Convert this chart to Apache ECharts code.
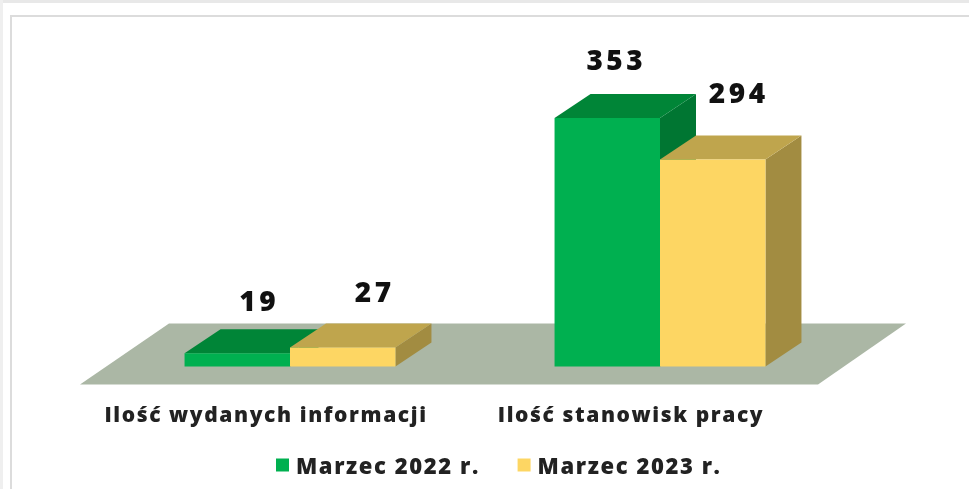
<!DOCTYPE html>
<html><head><meta charset="utf-8">
<script src="https://cdn.jsdelivr.net/npm/echarts@6/dist/echarts.min.js"></script>
<style>
html,body{margin:0;padding:0;background:#fff}
#c{width:969px;height:489px;filter:blur(0.55px)}
svg text{letter-spacing:1.6px}
svg text[style*="28px"]{letter-spacing:3.5px}
</style></head><body><div id="c"></div>
<script>
const categories = ['Ilość wydanych informacji', 'Ilość stanowisk pracy'];
const seriesNames = ['Marzec 2022 r.', 'Marzec 2023 r.'];
const marzec2022 = [19, 353];
const marzec2023 = [27, 294];
const valueMax = 400;
const FONT = '"Open Sans"';
const DX = 36, DY = -24;
const faces = [
  {front:'#00b050', top:'#008537', side:'#007632'},
  {front:'#fdd663', top:'#bfa54d', side:'#a28c41'}
];
// hand-placed label offsets from the front face's top-centre, per series and category
const labelOffsets = [
  [[22,-53],[9,-59]],
  [[32,-56],[26,-68]]
];
// leftward shift of each category label, as right padding
const labelPadRight = [48, 58];
function barSeries(name, data, idx){
  return {
    type:'custom', name, data, z:5+idx, coordinateSystem:'cartesian2d',
    itemStyle:{color:faces[idx].front},
    encode:{x:0,y:1},
    renderItem(params, api){
      const cat = api.value(0), val = api.value(1);
      const base = api.coord([cat, 0]), tip = api.coord([cat, val]);
      const w = api.size([1,0])[0] * 0.285;
      const l = base[0] + (idx === 0 ? -w : 0), r = l + w;
      const b = base[1], t = tip[1];
      const f = faces[idx];
      const off = labelOffsets[idx][cat];
      const poly = (pts, fill) => ({type:'polygon', shape:{points:pts}, style:{fill}});
      return {type:'group', children:[
        poly([[r,t],[r+DX,t+DY],[r+DX,b+DY],[r,b]], f.side),
        poly([[l,t],[l+DX,t+DY],[r+DX,t+DY],[r,t]], f.top),
        poly([[l,b],[l,t],[r,t],[r,b]], f.front),
        {type:'text', z2:50, style:{
          text:String(val), x:(l+r)/2+off[0], y:t+off[1],
          font:'800 28px '+FONT, fill:'#111', textAlign:'center', textVerticalAlign:'middle'}}
      ]};
    }
  };
}
const floorSeries = {
  type:'custom', silent:true, z:1, data:[[0,0]], coordinateSystem:'cartesian2d', legendHoverLink:false,
  renderItem(params, api){
    const c = params.coordSys, b = c.y + c.height;
    return {type:'polygon', shape:{points:[
      [c.x-25, b+18],[c.x+c.width-27, b+18],[c.x+c.width+61, b-43],[c.x+64, b-43]
    ]}, style:{fill:'#abb7a5'}};
  }
};
const chart = echarts.init(document.getElementById('c'), null, {renderer:'svg', width:969, height:489});
chart.setOption({
  animation:false,
  backgroundColor:'#fff',
  graphic:[
    {type:'rect', z:-5, shape:{x:0,y:0,width:969,height:3}, style:{fill:'#e8e8e8'}},
    {type:'rect', z:-5, shape:{x:0,y:0,width:3,height:489}, style:{fill:'#efefef'}},
    {type:'rect', z:-4, shape:{x:11,y:16,width:968,height:483}, style:{fill:'#fff', stroke:'#dcdcdc', lineWidth:2}}
  ],
  grid:{left:105, width:740, top:85, height:281.5},
  xAxis:{type:'category',
    data:categories.map((value,i)=>({value, textStyle:{padding:[0,labelPadRight[i],0,0]}})),
    axisLine:{show:false}, axisTick:{show:false},
    axisLabel:{margin:37, fontFamily:FONT, fontWeight:800, fontSize:21, color:'#222', interval:0}},
  yAxis:{type:'value', min:0, max:valueMax, show:false, splitLine:{show:false}},
  legend:{data:seriesNames, left:276, top:454, padding:0, itemWidth:13, itemHeight:13, itemGap:60, icon:'rect',
    textStyle:{fontFamily:FONT, fontWeight:800, fontSize:22, color:'#222', padding:[0,0,0,2]}},
  series:[floorSeries, barSeries(seriesNames[0], marzec2022, 0), barSeries(seriesNames[1], marzec2023, 1)]
});
</script></body></html>
